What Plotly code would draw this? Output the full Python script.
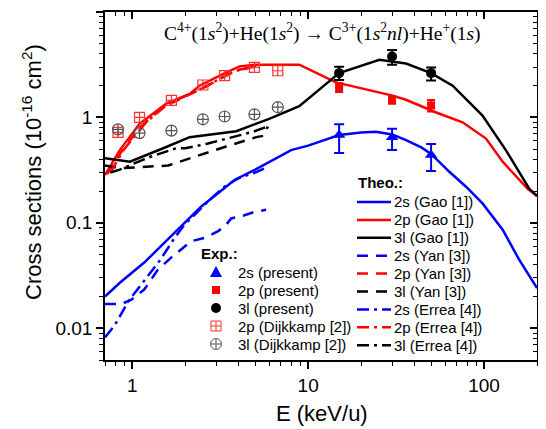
import numpy as np
import plotly.graph_objects as go

# ---------------- data ----------------
gao2s_x = [0.7, 0.85, 1.17, 1.5, 1.81, 2.47, 3.0, 3.81, 5.0, 6.5, 8.0, 10, 15, 20, 24.3, 30, 36, 44, 50, 63.5, 79, 98, 127.6, 158, 200]
gao2s_y = [0.020, 0.027, 0.042, 0.063, 0.086, 0.143, 0.185, 0.255, 0.32, 0.41, 0.49, 0.54, 0.68, 0.72, 0.73, 0.69, 0.61, 0.52, 0.45, 0.305, 0.22, 0.153, 0.086, 0.045, 0.024]

gao2p_x = [0.7, 0.85, 1.1, 1.56, 2.12, 2.41, 3.27, 4.07, 5.0, 8.9, 14.4, 20, 30.2, 36, 46.9, 53, 75.5, 102.6, 127.6, 177, 200]
gao2p_y = [0.284, 0.49, 0.87, 1.35, 1.67, 2.0, 2.58, 3.05, 3.16, 3.16, 2.15, 1.89, 1.61, 1.47, 1.21, 1.12, 0.90, 0.63, 0.38, 0.21, 0.18]

gao3l_x = [0.7, 0.97, 1.5, 2.12, 3.9, 6.0, 8.9, 15, 25.4, 36, 50, 66.3, 98, 133, 181, 200]
gao3l_y = [0.41, 0.38, 0.51, 0.65, 0.74, 0.97, 1.28, 2.63, 3.52, 3.25, 2.63, 2.0, 1.04, 0.49, 0.21, 0.18]

yan2s_x = [0.7, 0.87, 0.99, 1.17, 1.4, 1.67, 2.16, 2.58, 3.06, 3.35, 3.65, 4.35, 4.95, 5.77]
yan2s_y = [0.017, 0.017, 0.0187, 0.0233, 0.036, 0.047, 0.067, 0.072, 0.083, 0.092, 0.11, 0.118, 0.127, 0.133]

yan2p_x = [0.72, 0.85, 1.1, 1.5, 2.0, 2.5, 3.3, 4.1, 5.0]
yan2p_y = [0.29, 0.45, 0.80, 1.25, 1.58, 1.88, 2.42, 2.85, 3.0]

yan3l_x = [0.7, 0.85, 1.2, 1.6, 1.86, 2.52, 3.42, 5.07, 5.6, 5.9]
yan3l_y = [0.35, 0.33, 0.34, 0.35, 0.38, 0.45, 0.53, 0.65, 0.67, 0.82]

errea2s_x = [0.7, 0.79, 0.95, 1.17, 1.45, 1.74, 1.98, 2.26, 2.8, 3.34, 3.98, 5.0, 5.9]
errea2s_y = [0.0082, 0.0105, 0.018, 0.028, 0.045, 0.072, 0.096, 0.119, 0.17, 0.22, 0.263, 0.30, 0.34]

errea2p_x = [0.75, 0.9, 1.2, 1.6, 2.1, 2.6, 3.4, 4.2, 5.2]
errea2p_y = [0.30, 0.50, 0.90, 1.35, 1.65, 1.95, 2.50, 2.90, 3.05]

errea3l_x = [0.75, 0.85, 1.0, 1.3, 1.78, 2.0, 2.63, 3.73, 4.85, 5.77]
errea3l_y = [0.30, 0.32, 0.36, 0.43, 0.51, 0.51, 0.56, 0.65, 0.73, 0.81]

exp_x = [15, 30, 50]
exp2s_y = [0.68, 0.65, 0.44]
exp2s_ep = [0.18, 0.13, 0.12]
exp2s_em = [0.22, 0.16, 0.13]
exp2p_y = [1.93, 1.47, 1.30]
exp2p_e = [0.19, 0.12, 0.16]
exp3l_y = [2.63, 3.79, 2.63]
exp3l_ep = [0.40, 0.56, 0.35]
exp3l_em = [0.36, 0.63, 0.39]

dijk_x = [0.83, 1.1, 1.67, 2.52, 3.35, 4.95, 6.72]
dijk2p_y = [0.72, 1.0, 1.45, 2.03, 2.49, 2.98, 2.77]
dijk3l_y = [0.77, 0.71, 0.75, 0.96, 1.02, 1.07, 1.25]

x_ticks = [1, 10, 100]
x_ticktext = ["1", "10", "100"]
y_ticks = [0.01, 0.1, 1, 10]
y_ticktext = ["0.01", "0.1", "1", "10"]

theo_labels = ["2s (Gao [1])", "2p (Gao [1])", "3l (Gao [1])",
               "2s (Yan [3])", "2p (Yan [3])", "3l (Yan [3])",
               "2s (Errea [4])", "2p (Errea [4])", "3l (Errea [4])"]
exp_labels = ["2s (present)", "2p (present)", "3l (present)",
              "2p (Dijkkamp [2])", "3l (Dijkkamp [2])"]

# ---------------- styling ----------------
FONT = "Liberation Sans, Arial, sans-serif"
BLUE, RED, BLACK = "#0000ff", "#ff0000", "#000000"
DRED, GREY = "#ff3030", "#555555"
LW = 2.5
DASH = "11px,8px"
DASHDOT = "12px,5px,3px,5px"

# the page body has an 8px default margin, so the figure is drawn offset by 8px
OFF = 8
W, H = 546 - OFF, 429 - OFF
PLOT_L, PLOT_T, PW, PH = 105, 12, 432, 348          # target plot box on the page
ML, MT = PLOT_L - OFF, PLOT_T - OFF
MR, MB = W - ML - PW, H - MT - PH


def px_x(px):
    return (px - PLOT_L) / PW


def px_y(py):
    return (PLOT_T + PH - py) / PH


fig = go.Figure()

theo = [
    (gao2s_x, gao2s_y, BLUE, "solid"),
    (gao2p_x, gao2p_y, RED, "solid"),
    (gao3l_x, gao3l_y, BLACK, "solid"),
    (yan2s_x, yan2s_y, BLUE, DASH),
    (yan2p_x, yan2p_y, RED, DASH),
    (yan3l_x, yan3l_y, BLACK, DASH),
    (errea2s_x, errea2s_y, BLUE, DASHDOT),
    (errea2p_x, errea2p_y, RED, DASHDOT),
    (errea3l_x, errea3l_y, BLACK, DASHDOT),
]
for (xs, ys, c, d), name in zip(theo, theo_labels):
    fig.add_trace(go.Scatter(x=xs, y=ys, mode="lines", name=name,
                             line=dict(color=c, width=LW, dash=d)))

fig.add_trace(go.Scatter(x=exp_x, y=exp2s_y, mode="markers", name=exp_labels[0],
                         marker=dict(symbol="triangle-up", size=11, color=BLUE),
                         error_y=dict(type="data", array=exp2s_ep, arrayminus=exp2s_em,
                                      color=BLUE, thickness=2, width=5)))
fig.add_trace(go.Scatter(x=exp_x, y=exp2p_y, mode="markers", name=exp_labels[1],
                         marker=dict(symbol="square", size=8, color=RED),
                         error_y=dict(type="data", array=exp2p_e, color=RED, thickness=2, width=4)))
fig.add_trace(go.Scatter(x=exp_x, y=exp3l_y, mode="markers", name=exp_labels[2],
                         marker=dict(symbol="circle", size=10, color=BLACK),
                         error_y=dict(type="data", array=exp3l_ep, arrayminus=exp3l_em,
                                      color=BLACK, thickness=2, width=5)))
fig.add_trace(go.Scatter(x=dijk_x, y=dijk2p_y, mode="markers", name=exp_labels[3],
                         marker=dict(symbol="square-cross-open", size=10, color=DRED,
                                     line=dict(width=1.2))))
fig.add_trace(go.Scatter(x=dijk_x, y=dijk3l_y, mode="markers", name=exp_labels[4],
                         marker=dict(symbol="circle-cross-open", size=11, color=GREY,
                                     line=dict(width=1.2))))

# dummy traces so the mirrored (inside-tick) axes exist
fig.add_trace(go.Scatter(x=[1], y=[1], xaxis="x2", yaxis="y", mode="markers",
                         marker=dict(opacity=0), hoverinfo="skip"))
fig.add_trace(go.Scatter(x=[1], y=[1], xaxis="x", yaxis="y2", mode="markers",
                         marker=dict(opacity=0), hoverinfo="skip"))

xr = [np.log10(0.7), np.log10(200)]
yr = [np.log10(0.005), np.log10(10)]
x_minor = [m * 10.0 ** e for e in (-1, 0, 1, 2) for m in range(2, 10)]
y_minor = [m * 10.0 ** e for e in (-3, -2, -1, 0) for m in range(2, 10)]

axis_common = dict(type="log", showgrid=False, zeroline=False, showline=True,
                   linecolor="black", linewidth=1.5, tickcolor="black", tickwidth=1.5)

fig.update_layout(
    width=W, height=H,
    margin=dict(l=ML, r=MR, t=MT, b=MB, autoexpand=False),
    paper_bgcolor="white", plot_bgcolor="white",
    font=dict(family=FONT, color="black"),
    showlegend=False,
    xaxis=dict(**axis_common, range=xr, tickvals=x_ticks, ticktext=x_ticktext,
               ticks="outside", ticklen=7, tickfont=dict(size=19),
               minor=dict(tickvals=x_minor, ticks="outside", ticklen=4, tickwidth=1.2, tickcolor="black")),
    yaxis=dict(**axis_common, range=yr, tickvals=y_ticks, ticktext=y_ticktext,
               ticks="outside", ticklen=7, tickfont=dict(size=19),
               minor=dict(tickvals=y_minor, ticks="outside", ticklen=4, tickwidth=1.2, tickcolor="black")),
    xaxis2=dict(**axis_common, range=xr, overlaying="x", side="top", anchor="y",
                tickvals=x_ticks, ticks="inside", ticklen=7, showticklabels=False,
                minor=dict(tickvals=x_minor, ticks="inside", ticklen=4, tickwidth=1.2, tickcolor="black")),
    yaxis2=dict(**axis_common, range=yr, overlaying="y", side="right", anchor="x",
                tickvals=y_ticks, ticks="inside", ticklen=7, showticklabels=False,
                minor=dict(tickvals=y_minor, ticks="inside", ticklen=4, tickwidth=1.2, tickcolor="black")),
)

# ---------------- titles ----------------
fig.add_annotation(
    text="C<sup>4+</sup>(1<i>s</i><sup>2</sup>)+He(1<i>s</i><sup>2</sup>) \u2192 "
         "C<sup>3+</sup>(1<i>s</i><sup>2</sup><i>nl</i>)+He<sup>+</sup>(1<i>s</i>)",
    xref="paper", yref="paper", x=px_x(322), y=px_y(33), xanchor="center", yanchor="middle",
    showarrow=False, font=dict(family="Liberation Serif, Times New Roman, serif", size=19.5))

fig.add_annotation(
    text="Cross sections (10<sup>-16</sup> cm<sup>2</sup>)",
    xref="paper", yref="paper", x=px_x(32), y=px_y(172), xanchor="center", yanchor="middle",
    textangle=-90, showarrow=False, font=dict(size=22))

fig.add_annotation(
    text="E (keV/u)", xref="paper", yref="paper", x=px_x(322), y=px_y(413),
    xanchor="center", yanchor="middle", showarrow=False, font=dict(size=22))

# ---------------- legends (drawn as layout decorations) ----------------
LEG_FONT = dict(size=15)

# Theo. legend
fig.add_annotation(text="<b>Theo.:</b>", xref="paper", yref="paper",
                   x=px_x(356), y=px_y(182), xanchor="left", yanchor="middle",
                   showarrow=False, font=LEG_FONT)
for i, ((xs, ys, c, d), name) in enumerate(zip(theo, theo_labels)):
    ry = 202 + 17.9 * i
    fig.add_shape(type="line", xref="paper", yref="paper",
                  x0=px_x(357), x1=px_x(391), y0=px_y(ry), y1=px_y(ry),
                  line=dict(color=c, width=LW, dash=d))
    fig.add_annotation(text=name, xref="paper", yref="paper",
                       x=px_x(392), y=px_y(ry), xanchor="left", yanchor="middle",
                       showarrow=False, font=LEG_FONT)

# Exp. legend
fig.add_annotation(text="<b>Exp.:</b>", xref="paper", yref="paper",
                   x=px_x(199), y=px_y(253), xanchor="left", yanchor="middle",
                   showarrow=False, font=LEG_FONT)
exp_rows = [272 + 18 * i for i in range(5)]
MX = px_x(216)


def pshape(row, **kw):
    base = dict(xref="paper", yref="paper", xsizemode="pixel", ysizemode="pixel",
                xanchor=MX, yanchor=px_y(row))
    base.update(kw)
    fig.add_shape(**base)


# triangle (2s present)
pshape(exp_rows[0], type="path", path="M -6,-5 L 6,-5 L 0,6 Z",
       fillcolor=BLUE, line=dict(width=0))
# square (2p present)
pshape(exp_rows[1], type="rect", x0=-4, x1=4, y0=-4, y1=4,
       fillcolor=RED, line=dict(width=0))
# circle (3l present)
pshape(exp_rows[2], type="circle", x0=-5, x1=5, y0=-5, y1=5,
       fillcolor=BLACK, line=dict(width=0))
# boxed plus (2p Dijkkamp)
pshape(exp_rows[3], type="rect", x0=-5, x1=5, y0=-5, y1=5, line=dict(color=DRED, width=1))
pshape(exp_rows[3], type="line", x0=0, x1=0, y0=-5, y1=5, line=dict(color=DRED, width=1))
pshape(exp_rows[3], type="line", x0=-5, x1=5, y0=0, y1=0, line=dict(color=DRED, width=1))
# circled plus (3l Dijkkamp)
pshape(exp_rows[4], type="circle", x0=-5.5, x1=5.5, y0=-5.5, y1=5.5, line=dict(color=GREY, width=1))
pshape(exp_rows[4], type="line", x0=0, x1=0, y0=-5.5, y1=5.5, line=dict(color=GREY, width=1))
pshape(exp_rows[4], type="line", x0=-5.5, x1=5.5, y0=0, y1=0, line=dict(color=GREY, width=1))

for row, name in zip(exp_rows, exp_labels):
    fig.add_annotation(text=name, xref="paper", yref="paper",
                       x=px_x(236), y=px_y(row), xanchor="left", yanchor="middle",
                       showarrow=False, font=LEG_FONT)

fig.write_html("out.html")
